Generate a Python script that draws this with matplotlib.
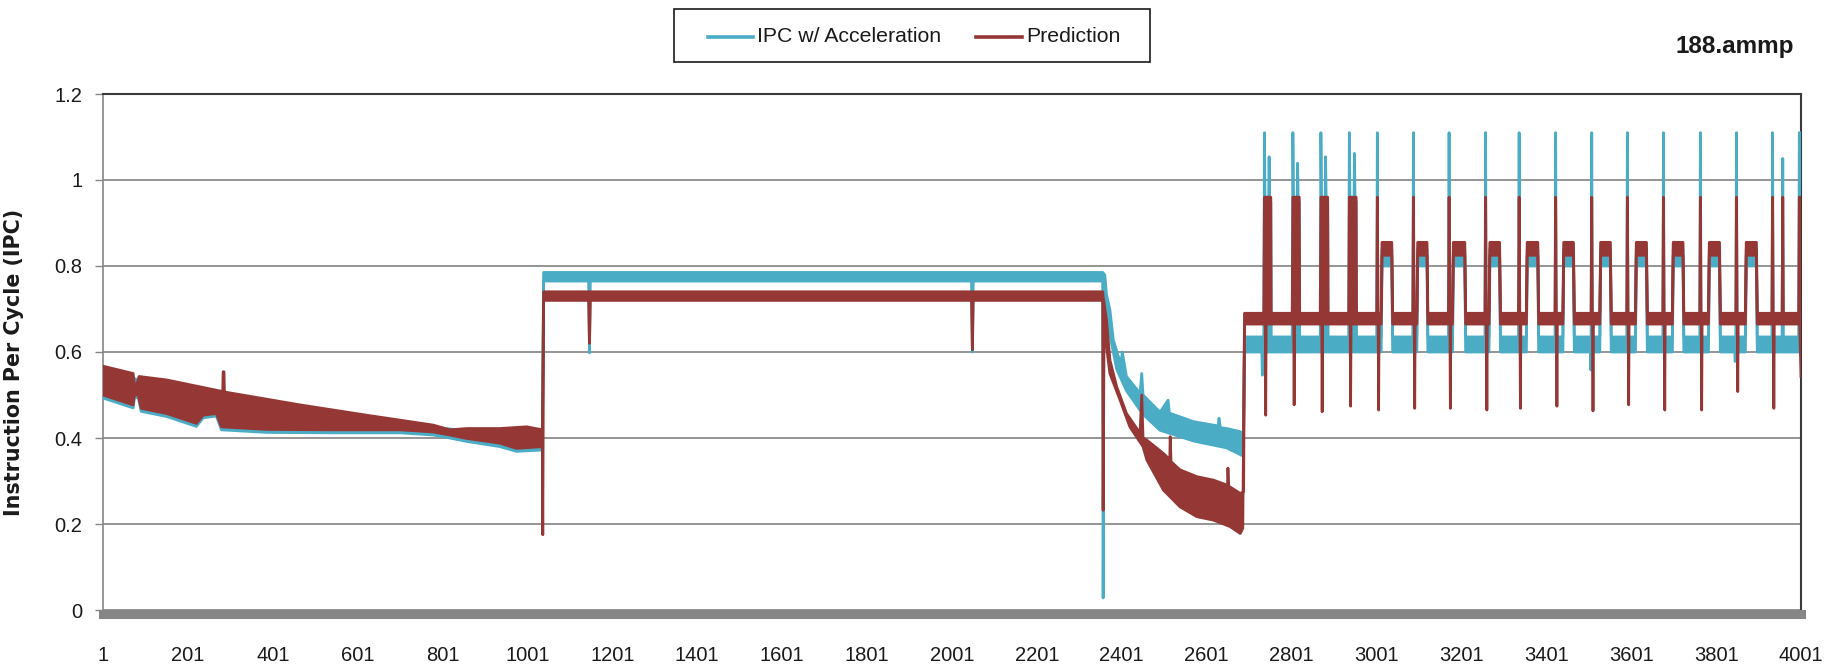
import matplotlib
matplotlib.use("Agg")
import matplotlib.pyplot as plt
from matplotlib.lines import Line2D
from matplotlib.patches import Rectangle

plt.rcParams['font.family'] = ['Liberation Sans', 'DejaVu Sans']

# ------------------------------------------------------------------
# Data (upper / lower edge of each noisy trace)
# ------------------------------------------------------------------
series_names = ["IPC w/ Acceleration", "Prediction"]
x_tick_values = list(range(1, 4002, 200))
y_tick_values = [0, 0.2, 0.4, 0.6, 0.8, 1.0, 1.2]
y_tick_labels = ["0", "0.2", "0.4", "0.6", "0.8", "1", "1.2"]

# Prediction, phases 1-3 (x < 2690)
pred_hi_x = [1, 72, 75, 80, 86, 151, 283, 284, 286, 287, 465, 622, 779, 818, 858, 936, 999, 1036,
             1039, 2356,
             2357, 2365, 2373, 2389, 2412, 2444, 2448, 2451, 2460, 2499, 2514, 2515, 2517, 2538,
             2578, 2617, 2650, 2651, 2653, 2680, 2688]
pred_hi_y = [0.567, 0.550, 0.523, 0.523, 0.543, 0.535, 0.508, 0.554, 0.554, 0.507, 0.477, 0.453,
             0.430, 0.419, 0.422, 0.422, 0.426, 0.419,
             0.740, 0.740,
             0.729, 0.674, 0.581, 0.519, 0.457, 0.411, 0.500, 0.400, 0.395, 0.364, 0.350, 0.403,
             0.345, 0.326, 0.310, 0.302, 0.290, 0.330, 0.288, 0.271, 0.275]
pred_lo_x = [1, 72, 75, 84, 91, 151, 221, 237, 268, 280, 386, 543, 701, 779, 818, 858, 936, 975,
             1036, 1037,
             1039, 1145, 1147, 1149, 2047, 2049, 2051, 2356,
             2357, 2359, 2373, 2397, 2420, 2451, 2460, 2499, 2538, 2578, 2617, 2656, 2680, 2686]
pred_lo_y = [0.500, 0.477, 0.500, 0.500, 0.469, 0.457, 0.434, 0.453, 0.457, 0.426, 0.420, 0.419,
             0.419, 0.414, 0.407, 0.399, 0.388, 0.376, 0.380, 0.175,
             0.720, 0.720, 0.620, 0.720, 0.720, 0.605, 0.720, 0.720,
             0.232, 0.660, 0.550, 0.488, 0.426, 0.380, 0.349, 0.279, 0.240, 0.217, 0.209, 0.194,
             0.178, 0.190]

# IPC w/ Acceleration, phases 1-3 (x < 2690)
ipc_hi_x = [1, 72, 86, 151, 283, 465, 622, 779, 858, 999, 1036,
            1039, 2356,
            2361, 2365, 2373, 2381, 2393, 2400, 2402, 2412, 2444, 2448, 2451, 2491, 2510, 2513,
            2570, 2628, 2630, 2633, 2648, 2679, 2688]
ipc_hi_y = [0.555, 0.540, 0.533, 0.525, 0.500, 0.470, 0.447, 0.425, 0.417, 0.420, 0.412,
            0.785, 0.785,
            0.779, 0.733, 0.698, 0.628, 0.589, 0.575, 0.600, 0.543, 0.504, 0.550, 0.500, 0.460,
            0.488, 0.458, 0.438, 0.428, 0.446, 0.424, 0.422, 0.415, 0.410]
ipc_lo_x = [1, 72, 75, 84, 91, 151, 221, 237, 268, 280, 386, 543, 701, 779, 818, 858, 936, 975,
            1036,
            1039, 1145, 1147, 1149, 2047, 2049, 2051, 2356, 2357,
            2359, 2365, 2373, 2389, 2412, 2451, 2491, 2570, 2648, 2687]
ipc_lo_y = [0.493, 0.470, 0.494, 0.494, 0.462, 0.450, 0.427, 0.447, 0.451, 0.419, 0.413, 0.412,
            0.412, 0.407, 0.400, 0.392, 0.380, 0.369, 0.372,
            0.765, 0.765, 0.598, 0.765, 0.765, 0.600, 0.765, 0.765, 0.028,
            0.740, 0.700, 0.640, 0.560, 0.510, 0.455, 0.418, 0.393, 0.377, 0.358]

# Periodic phase (x >= 2690)
spike_x = [2737, 2804, 2870, 2937, 3003, 3088, 3172, 3258, 3337, 3423, 3508, 3592, 3677,
           3764, 3849, 3934, 3958, 3997]
ipc_peak = [1.11, 1.11, 1.11, 1.11, 1.11, 1.11, 1.11, 1.11, 1.11, 1.11, 1.11, 1.11, 1.11,
            1.11, 1.11, 1.11, 1.05, 1.11]
pred_peak = [0.96, 0.96, 0.96, 0.96, 0.96, 0.96, 0.96, 0.96, 0.96, 0.96, 0.96, 0.96, 0.96,
             0.96, 0.96, 0.96, 0.96, 0.96]
pred_trough = [0.453, 0.477, 0.461, 0.474, 0.465, 0.469, 0.469, 0.465, 0.469, 0.474, 0.463,
               0.477, 0.465, 0.465, 0.508, 0.469, None, None]
pulse_end = [2752, 2819, 2886, 2953]
ipc_second_x = [2748, 2815, 2881, 2949]
ipc_second_y = [1.054, 1.039, 1.054, 1.062]
plateau_start = [3013, 3097, 3181, 3267, 3355, 3441, 3528, 3612, 3699, 3784, 3871]
plateau_end = [3038, 3121, 3210, 3292, 3382, 3466, 3553, 3638, 3724, 3810, 3897]
pred_base = [0.665, 0.690]
ipc_base = [0.600, 0.635]
pred_plateau = [0.825, 0.855]
ipc_plateau = [0.800, 0.840]
ipc_dip_x = [2732, 3506, 3846]
ipc_dip_y = [0.546, 0.558, 0.578]
pred_end_low = 0.543
ipc_end_low = 0.600

COL_IPC = "#4BACC6"
COL_PRED = "#953735"
TXT = "#1a1a1a"


def periodic_edges(base, peaks, pulse_fill, second_x, second_y, plateau, troughs,
                   dip_x, dip_y, end_low):
    lo_b, hi_b = base
    hi = [(2690, hi_b)]
    lo = [(2690, lo_b)]
    last = len(spike_x) - 1
    for i, s in enumerate(spike_x):
        if i == last:
            hi += [(s - 1.5, hi_b), (s, peaks[i]), (4001, peaks[i])]
            lo += [(s + 1, lo_b), (4001, end_low)]
            continue
        if i < len(pulse_end):
            pe = pulse_end[i]
            hi += [(s - 1.5, hi_b), (s, peaks[i]), (s + 1.5, pulse_fill)]
            if second_x is not None:
                hi += [(second_x[i] - 1, pulse_fill), (second_x[i], second_y[i]),
                       (second_x[i] + 1.5, pulse_fill)]
            hi += [(pe, pulse_fill), (pe + 1, hi_b)]
        else:
            hi += [(s - 1.5, hi_b), (s, peaks[i]), (s + 1.5, hi_b)]
        if troughs is not None and troughs[i] is not None:
            lo += [(s + 2, lo_b), (s + 3, troughs[i]), (s + 4, lo_b)]
    for a, b in zip(plateau_start, plateau_end):
        hi += [(a - 1, hi_b), (a + 1, plateau[1]), (b - 1, plateau[1]), (b + 1, hi_b)]
        lo += [(a - 1, lo_b), (a + 1, plateau[0]), (b - 1, plateau[0]), (b + 1, lo_b)]
    for x, y in zip(dip_x, dip_y):
        lo += [(x - 1, lo_b), (x, y), (x + 1, lo_b)]
    hi.sort(key=lambda p: p[0])
    lo.sort(key=lambda p: p[0])
    return [p[0] for p in hi], [p[1] for p in hi], [p[0] for p in lo], [p[1] for p in lo]


fig = plt.figure(figsize=(18.39, 6.65), dpi=100)
ax = fig.add_axes([103 / 1839, 1 - 610 / 665, 1698 / 1839, 516 / 665])


def draw_series(hx, hy, lx, ly, color, z):
    px = list(hx) + list(lx)[::-1]
    py = list(hy) + list(ly)[::-1]
    ax.fill(px, py, color=color, lw=0, zorder=z)
    ax.plot(hx, hy, color=color, lw=2.0, solid_joinstyle='round', zorder=z)
    ax.plot(lx, ly, color=color, lw=2.0, solid_joinstyle='round', zorder=z)


# IPC w/ Acceleration
phx, phy, plx, ply = periodic_edges(ipc_base, ipc_peak, 0.95, ipc_second_x, ipc_second_y,
                                    ipc_plateau, None, ipc_dip_x, ipc_dip_y, ipc_end_low)
draw_series(ipc_hi_x + phx, ipc_hi_y + phy, ipc_lo_x + plx, ipc_lo_y + ply, COL_IPC, 3)

# Prediction
phx, phy, plx, ply = periodic_edges(pred_base, pred_peak, 0.96, None, None,
                                    pred_plateau, pred_trough, [], [], pred_end_low)
draw_series(pred_hi_x + phx, pred_hi_y + phy, pred_lo_x + plx, pred_lo_y + ply, COL_PRED, 4)

# Axes styling
ax.set_xlim(1, 4001)
ax.set_ylim(0, 1.2)
ax.set_xticks(x_tick_values)
ax.set_xticklabels([str(v) for v in x_tick_values])
ax.set_yticks(y_tick_values)
ax.set_yticklabels(y_tick_labels)
ax.yaxis.grid(True, color="#8c8c8c", lw=1.3)
ax.xaxis.grid(False)
ax.set_axisbelow(True)
ax.tick_params(axis='y', length=6, width=1, color="#868686", pad=9, labelsize=14.5,
               labelcolor=TXT)
ax.tick_params(axis='x', length=0, pad=23, labelsize=14.5, labelcolor=TXT)

ax.spines['left'].set_color("#868686")
ax.spines['left'].set_linewidth(1.2)
ax.spines['top'].set_color("#3a3a3a")
ax.spines['top'].set_linewidth(1.5)
ax.spines['right'].set_color("#3a3a3a")
ax.spines['right'].set_linewidth(1.5)
ax.spines['bottom'].set_color("#868686")
ax.spines['bottom'].set_linewidth(6.5)
ax.spines['bottom'].set_position(('outward', 3.2))

ax.set_ylabel("Instruction Per Cycle (IPC)", fontsize=14.9, fontweight='bold',
              family=['DejaVu Sans'], color=TXT)
ax.yaxis.set_label_coords((24 - 103) / 1698, (610 - 362) / 516)

# Title
fig.text(1794 / 1839, 1 - 47 / 665, "188.ammp", ha='right', va='center', fontsize=17.5,
         fontweight='bold', color=TXT)

# Legend (boxed, top centre)
W, H = 1839.0, 665.0
fig.add_artist(Rectangle((674 / W, 1 - 62 / H), (1150 - 674) / W, (62 - 9.5) / H,
                         transform=fig.transFigure, facecolor='white', edgecolor='#1a1a1a',
                         lw=1.2))
ly = 1 - 36.5 / H
fig.add_artist(Line2D([708 / W, 753 / W], [ly, ly], transform=fig.transFigure,
                      color=COL_IPC, lw=2.6))
fig.text(757 / W, ly, series_names[0], ha='left', va='center', fontsize=15.3, color=TXT)
fig.add_artist(Line2D([976 / W, 1022 / W], [ly, ly], transform=fig.transFigure,
                      color=COL_PRED, lw=2.6))
fig.text(1026 / W, ly, series_names[1], ha='left', va='center', fontsize=15.3, color=TXT)

fig.savefig("out.png", dpi=100)
